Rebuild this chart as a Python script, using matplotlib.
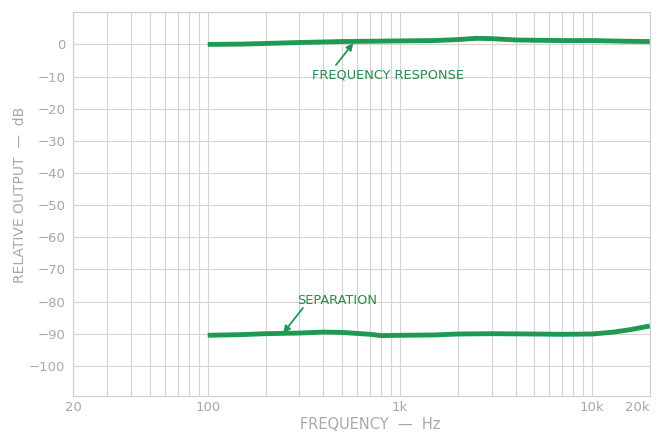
import numpy as np
import matplotlib
matplotlib.use("Agg")
import matplotlib.pyplot as plt
from matplotlib.ticker import FixedLocator, NullFormatter

# Data
freq_resp_hz = [100, 150, 200, 300, 500, 700, 1000, 1500, 2000, 2500, 3000,
                4000, 5000, 7000, 10000, 15000, 20000]
freq_resp_db = [0.0, 0.1, 0.3, 0.6, 0.9, 1.0, 1.1, 1.2, 1.5, 1.9, 1.8,
                1.4, 1.3, 1.2, 1.2, 1.0, 0.9]

sep_hz = [100, 150, 200, 300, 400, 500, 700, 800, 1000, 1500, 2000, 3000,
          5000, 7000, 10000, 13000, 16000, 20000]
sep_db = [-90.5, -90.3, -90.0, -89.8, -89.5, -89.6, -90.2, -90.6, -90.5,
          -90.4, -90.1, -90.0, -90.1, -90.2, -90.1, -89.5, -88.7, -87.6]

x_ticks = [20, 100, 1000, 10000, 20000]
x_tick_labels = ["20", "100", "1k", "10k", "20k"]
y_ticks = [0, -10, -20, -30, -40, -50, -60, -70, -80, -90, -100]

line_color = "#1f9a55"
text_color = "#2a8a4e"
axis_gray = "#a8a8a8"

fig = plt.figure(figsize=(6.59, 4.36), dpi=100)
ax = fig.add_axes([0.1115, 0.0924, 0.8745, 0.8794])

ax.plot(freq_resp_hz, freq_resp_db, color=line_color, linewidth=3.5,
        solid_capstyle="butt")
ax.plot(sep_hz, sep_db, color=line_color, linewidth=3.5,
        solid_capstyle="butt")

ax.set_xscale("log")
ax.set_xlim(20, 20000)
ax.set_ylim(-109.3, 10)

# grid: every 10 dB, every log minor step
minor = [m * 10 ** d for d in range(1, 5) for m in range(1, 10)]
minor = [f for f in minor if 20 <= f <= 20000]
ax.xaxis.set_major_locator(FixedLocator(x_ticks))
ax.xaxis.set_minor_locator(FixedLocator(minor))
ax.xaxis.set_minor_formatter(NullFormatter())
ax.set_xticklabels(x_tick_labels)
ax.get_xticklabels()[-1].set_horizontalalignment("right")
ax.set_yticks(y_ticks)
ax.yaxis.set_minor_locator(FixedLocator([10, -110]))
ax.grid(True, which="both", color="#d4d4d4", linewidth=0.8)
ax.tick_params(which="both", length=0, colors=axis_gray, labelsize=9.5)
ax.tick_params(axis="x", pad=4)
ax.tick_params(axis="y", pad=6)
for s in ax.spines.values():
    s.set_color("#cfcfcf")
    s.set_linewidth(0.8)

ax.set_xlabel("FREQUENCY  —  Hz", color=axis_gray, fontsize=10.5)
ax.xaxis.set_label_coords(0.514, -0.076)
ax.xaxis.label.set_va("center")
ax.set_ylabel("RELATIVE OUTPUT  —  dB", color=axis_gray, fontsize=10)
ax.yaxis.set_label_coords(-0.093, 0.523)
ax.yaxis.label.set_va("center")

# annotations
ax.text(349, -9.5, "FREQUENCY RESPONSE", color=text_color, fontsize=9.3,
        ha="left", va="center")
ax.annotate("", xy=(572, 0.4), xytext=(465, -6.4),
            arrowprops=dict(arrowstyle="-|>", color=line_color, lw=1.3,
                            shrinkA=0, shrinkB=0))
ax.text(292, -79.6, "SEPARATION", color=text_color, fontsize=9.3,
        ha="left", va="center")
ax.annotate("", xy=(247, -89.8), xytext=(313, -82),
            arrowprops=dict(arrowstyle="-|>", color=line_color, lw=1.3,
                            shrinkA=0, shrinkB=0))

fig.savefig("out.png", dpi=100, facecolor="white")
